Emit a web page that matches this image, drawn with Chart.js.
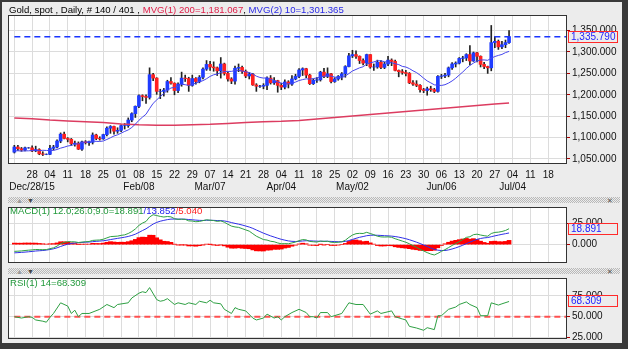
<!DOCTYPE html>
<html><head><meta charset="utf-8">
<script src="https://cdn.jsdelivr.net/npm/chart.js@4.4.0/dist/chart.umd.min.js"></script>
<style>
html,body{margin:0;padding:0;background:#3a3a3a;}
#frame{position:relative;width:628px;height:349px;background:#3a3a3a;overflow:hidden;font-family:"Liberation Sans",Arial,sans-serif;}
#inner{position:absolute;left:2px;top:2px;width:620px;height:341px;background:#ececec;}
canvas{position:absolute;left:0;}
.txt{position:absolute;font-size:9.6px;white-space:nowrap;line-height:12px;z-index:5;}
.strip{position:absolute;left:8px;width:612px;height:6px;background:repeating-conic-gradient(#b8b8b8 0 25%,#ececec 0 50%) 0 0/2px 2px;}
.ico{position:absolute;font-size:7px;line-height:7px;color:#666;}
</style></head>
<body>
<div id="frame">
  <div id="inner"></div>
  <div class="strip" style="top:197px"></div>
  <div class="strip" style="top:268px"></div>
  <div class="ico" style="left:16px;top:197px;color:#999">&#9650;</div><div class="ico" style="left:27px;top:197px;color:#444">&#9660;</div>
  <div class="ico" style="left:16px;top:268px;color:#999">&#9650;</div><div class="ico" style="left:27px;top:268px;color:#444">&#9660;</div>
  <div class="ico" style="left:607px;top:197px;color:#555">&#10005;</div>
  <div class="ico" style="left:607px;top:268px;color:#555">&#10005;</div>
  <canvas id="c1" width="628" height="196" style="top:0"></canvas>
  <canvas id="c2" width="628" height="70" style="top:200px"></canvas>
  <canvas id="c3" width="628" height="76" style="top:271px"></canvas>
  <div class="txt" style="left:9px;top:4px;color:#000">Gold, spot , Daily, # 140 / 401 , <span style="color:#e0204a">MVG(1) 200=1,181.067</span>, <span style="color:#2a2ae6">MVG(2) 10=1,301.365</span></div>
  <div class="txt" style="left:10px;top:205px;color:#239a3c">MACD(1) 12.0;26.0;9.0=18.891<span style="color:#2020ee">/13.852</span><span style="color:#ff2020">/5.040</span></div>
  <div class="txt" style="left:10px;top:277px;color:#239a3c">RSI(1) 14=68.309</div>
</div>
<script>
// ---------------- DATA ----------------
const startIdx = -5; // first bar = Mon Dec 21 2015 (trading-day index, Dec 28 2015 = 0)
const openP  = [1066,1078,1074,1071,1076,1076,1069,1072,1062,1061,1061,1075,1078,1092,1108,1098,1096,1086,1087,1073,1090,1088,1089,1106,1098,1097,1107,1122,1126,1115,1117,1128,1128,1141,1156,1173,1198,1196,1194,1247,1239,1208,1208,1211,1231,1227,1210,1225,1239,1238,1222,1238,1231,1241,1260,1271,1265,1263,1256,1272,1250,1237,1232,1262,1264,1255,1244,1248,1223,1220,1220,1222,1239,1228,1233,1222,1218,1230,1225,1237,1243,1258,1261,1246,1226,1234,1235,1253,1243,1249,1231,1237,1243,1249,1266,1291,1294,1290,1280,1274,1294,1265,1265,1276,1264,1272,1281,1278,1257,1254,1252,1250,1228,1225,1222,1212,1210,1214,1212,1208,1243,1244,1246,1263,1272,1274,1285,1286,1294,1279,1298,1290,1271,1266,1263,1322,1325,1312,1317,1322];
const highP  = [1082,1082,1077,1078,1077,1081,1080,1074,1067,1062,1082,1082,1095,1111,1113,1100,1098,1092,1090,1092,1093,1092,1111,1108,1102,1108,1125,1128,1127,1123,1130,1133,1146,1158,1174,1200,1200,1200,1263,1250,1240,1213,1215,1234,1240,1228,1228,1253,1246,1241,1246,1240,1245,1263,1280,1278,1277,1265,1287,1274,1253,1240,1267,1272,1267,1258,1252,1250,1226,1222,1226,1242,1245,1240,1234,1227,1235,1233,1245,1248,1261,1263,1262,1248,1237,1240,1255,1262,1263,1250,1240,1245,1252,1268,1297,1304,1303,1291,1284,1295,1294,1272,1281,1280,1276,1290,1284,1281,1258,1259,1257,1252,1233,1233,1224,1215,1218,1220,1215,1245,1248,1250,1265,1275,1277,1287,1290,1296,1315,1300,1299,1291,1276,1267,1362,1336,1328,1325,1328,1350];
const lowP   = [1064,1070,1068,1069,1075,1067,1067,1060,1058,1060,1060,1071,1076,1088,1097,1090,1082,1080,1072,1070,1085,1082,1085,1095,1094,1096,1104,1110,1108,1110,1114,1120,1124,1137,1147,1170,1186,1180,1190,1233,1201,1191,1197,1206,1225,1200,1205,1220,1231,1208,1220,1225,1228,1237,1257,1257,1255,1245,1239,1246,1232,1226,1225,1254,1250,1240,1237,1222,1208,1217,1214,1212,1225,1224,1206,1212,1214,1216,1222,1235,1240,1245,1240,1224,1224,1229,1232,1240,1240,1228,1229,1234,1235,1241,1265,1287,1285,1273,1270,1268,1262,1257,1262,1261,1261,1268,1268,1256,1242,1248,1244,1226,1222,1219,1206,1205,1199,1208,1205,1206,1238,1240,1242,1259,1265,1272,1277,1280,1270,1278,1277,1265,1261,1250,1256,1310,1306,1308,1310,1320];
const closeP = [1078,1074,1071,1076,1076,1069,1072,1062,1061,1061,1075,1078,1092,1108,1098,1096,1086,1087,1073,1090,1088,1089,1106,1098,1097,1107,1122,1126,1115,1117,1128,1128,1141,1156,1173,1198,1196,1194,1247,1239,1208,1208,1211,1231,1227,1210,1225,1239,1238,1222,1238,1231,1241,1260,1271,1265,1263,1256,1272,1250,1237,1232,1262,1264,1255,1244,1248,1223,1220,1220,1222,1239,1228,1233,1222,1218,1230,1225,1237,1243,1258,1261,1246,1226,1234,1235,1253,1243,1249,1231,1237,1243,1249,1266,1291,1294,1290,1280,1274,1294,1265,1265,1276,1264,1272,1281,1278,1257,1254,1252,1250,1228,1225,1222,1212,1210,1214,1212,1208,1243,1244,1246,1263,1272,1274,1285,1286,1294,1279,1298,1290,1271,1266,1263,1322,1325,1312,1317,1322,1335.79];
const ma10 = [1069.1,1069.2,1068.6,1069.0,1069.1,1069.8,1070.8,1069.3,1070.4,1070.0,1069.7,1070.1,1072.2,1075.4,1077.6,1080.3,1081.7,1084.2,1085.4,1088.3,1089.6,1090.7,1092.1,1091.1,1091.0,1092.1,1095.7,1099.6,1103.8,1106.5,1110.5,1114.4,1117.9,1123.7,1131.3,1140.4,1147.8,1154.6,1167.8,1180.0,1188.0,1196.0,1203.0,1210.5,1215.9,1217.1,1220.0,1224.5,1223.6,1221.9,1224.9,1227.2,1230.2,1233.1,1237.5,1243.0,1246.8,1248.5,1251.9,1254.7,1254.6,1254.7,1256.8,1257.2,1255.6,1253.5,1252.0,1248.7,1243.5,1240.5,1239.0,1239.7,1236.3,1233.2,1229.9,1227.3,1225.5,1225.7,1227.4,1229.7,1233.3,1235.5,1237.3,1236.6,1237.8,1239.5,1241.8,1243.6,1244.8,1243.6,1241.5,1239.7,1240.0,1244.0,1249.7,1255.6,1259.3,1263.0,1265.5,1271.8,1274.6,1276.8,1279.5,1279.3,1277.4,1276.1,1274.9,1272.6,1270.6,1266.4,1264.9,1261.2,1256.1,1251.9,1245.9,1238.8,1232.4,1227.9,1223.3,1222.4,1221.8,1223.6,1227.4,1232.4,1238.6,1246.1,1253.3,1261.5,1268.6,1274.1,1278.7,1281.2,1281.5,1280.6,1285.4,1289.4,1292.0,1294.3,1298.6,1301.365];
const ma200Days = [-5,0,5,10,15,20,25,30,35,40,45,50,55,60,65,70,75,80,85,90,95,100,105,110,115,120,125,130,134];
const ma200Vals = [1146,1144,1141,1139,1137,1135,1132,1130,1129,1129,1130,1131,1133,1135,1137,1138,1140,1143.5,1147,1150.5,1154,1157.5,1161,1164.5,1168,1171.5,1175,1178.5,1181.067];
const macdLine = [-8.0,-7.8,-7.5,-7.0,-6.6,-6.3,-5.8,-5.9,-6.0,-5.9,-4.8,-3.8,-1.8,1.2,2.6,3.5,3.4,3.3,2.5,3.0,3.4,3.7,5.0,5.3,5.5,6.4,8.0,9.5,9.8,10.1,11.0,11.6,13.2,15.5,18.6,22.8,25.6,27.5,32.8,35.5,34.5,33.5,32.8,33.4,33.0,30.8,30.0,30.2,30.0,28.2,28.0,27.2,27.5,28.5,29.5,29.0,28.6,27.6,28.2,26.6,24.2,22.0,21.0,20.5,19.0,17.5,16.0,13.0,10.0,8.0,6.0,5.4,4.0,3.4,2.0,1.0,1.2,1.0,2.0,3.0,4.7,6.0,5.6,3.8,3.4,3.0,4.2,3.8,4.0,2.8,2.6,2.8,3.4,5.2,8.6,11.4,13.0,13.4,13.2,14.6,13.2,11.8,10.0,9.2,9.0,9.2,8.7,7.0,5.6,4.2,2.8,1.0,-1.2,-3.2,-5.6,-7.5,-9.5,-11.2,-12.3,-10.4,-8.0,-6.0,-3.5,-1.0,1.2,3.5,6.0,8.6,9.4,11.8,12.4,11.4,10.6,10.0,13.2,14.5,14.8,15.6,16.8,18.891];
const signalLine = [-9.8,-9.5,-9.2,-8.9,-8.5,-8.1,-7.6,-7.3,-7.0,-6.5,-5.8,-5.0,-3.8,-2.2,-0.8,0.5,1.3,2.0,2.3,2.6,2.9,3.1,3.5,3.9,4.2,4.6,5.2,6.0,6.7,7.4,8.1,8.8,9.7,10.9,12.4,14.5,16.7,18.8,21.6,24.4,26.4,27.8,28.8,29.7,30.3,30.4,30.3,30.3,30.2,29.8,29.5,29.1,28.8,28.7,28.9,28.9,28.8,28.6,28.5,28.1,27.3,26.2,25.2,24.3,23.3,22.1,20.9,19.3,17.4,15.5,13.6,12.0,10.4,9.0,7.6,6.3,5.3,4.4,3.9,3.7,3.9,4.3,4.6,4.5,4.3,4.1,4.0,4.0,4.0,3.8,3.6,3.4,3.4,3.8,4.8,6.1,7.5,8.7,9.6,10.6,11.1,11.2,11.1,10.9,10.6,10.4,10.1,9.6,8.9,8.0,7.0,5.8,4.4,2.9,1.3,-0.4,-2.2,-4.0,-5.6,-6.6,-7.0,-7.0,-6.3,-5.2,-3.9,-2.4,-0.7,1.2,2.9,4.7,6.3,7.3,8.0,8.4,9.4,10.4,11.3,12.2,13.0,13.852];
const macdHist = [1.8,1.7,1.7,1.9,1.9,1.8,1.8,1.4,1.0,0.6,1.0,1.2,2.0,3.4,3.4,3.0,2.1,1.3,0.2,0.4,0.5,0.6,1.5,1.4,1.3,1.8,2.8,3.5,3.1,2.7,2.9,2.8,3.5,4.6,6.2,8.3,8.9,8.7,11.2,11.1,8.1,5.7,4.0,3.7,2.7,0.4,-0.3,-0.1,-0.2,-1.6,-1.5,-1.9,-1.3,-0.2,0.6,0.1,-0.2,-1.0,-0.3,-1.5,-3.1,-4.2,-4.2,-3.8,-4.3,-4.6,-4.9,-6.3,-7.4,-7.5,-7.6,-6.6,-6.4,-5.6,-5.6,-5.3,-4.1,-3.4,-1.9,-0.7,0.8,1.7,1.0,-0.7,-0.9,-1.1,0.2,-0.2,0.0,-1.0,-1.0,-0.6,0.0,1.4,3.8,5.3,5.5,4.7,3.6,4.0,2.1,0.6,-1.1,-1.7,-1.6,-1.2,-1.4,-2.6,-3.3,-3.8,-4.2,-4.8,-5.6,-6.1,-6.9,-7.1,-7.3,-7.2,-6.7,-3.8,-1.0,1.0,2.8,4.2,5.1,5.9,6.7,7.4,6.5,7.1,6.1,4.1,2.6,1.6,3.8,4.1,3.5,3.4,3.8,5.04];
const rsiDays = [-5,-3,-1,0,1,3,4,5,6,8,10,11,12,13,14,16,19,21,23,24,27,28,30,31,32,33,35,36,37,38,40,41,43,44,46,47,49,50,51,53,54,56,57,58,60,62,63,65,66,68,69,70,71,73,75,77,78,79,80,81,83,84,87,89,91,93,95,97,98,101,102,104,105,106,108,110,111,113,114,115,117,119,120,122,123,125,126,128,129,131,132,134];
const rsiVals = [50,48.4,50,49.2,46.1,44.6,43.4,49.2,53.9,66.7,62.8,53.9,57.8,50,53.9,53.9,58.9,64.7,60.9,64.7,66.7,72.5,78.3,80,79,85,70.6,68.6,69.5,71.7,64.7,66.7,64.7,66.7,64.7,68.6,66.7,69.8,66.7,65.5,58.9,53.9,60.9,58.9,57,48.4,46.1,48.4,53.1,48.4,50,46.1,50,55,58.9,55,50,50,48.4,55,55,50,53.9,66.7,64.7,64.7,53.1,57,53.9,57,50,47.3,46.1,38.4,36.4,33.7,36.8,34.5,51.2,51.2,58.9,61.6,64.7,67.8,64.7,60.9,51.2,51.2,66.7,64,65.5,68.309];
const rsiMid = 50;
// tick labels (one per Monday, Dec 28 2015 .. Jul 18 2016)
const dayLabels = ['28','04','11','18','25','01','08','15','22','29','07','14','21','28','04','11','18','25','02','09','16','23','30','06','13','20','27','04','11','18'];
const monthWeeks = [0,6,10,14,18,23,27];
const monthLabels = ['Dec/28/15','Feb/08','Mar/07','Apr/04','May/02','Jun/06','Jul/04'];
const priceTicks = [1050,1100,1150,1200,1250,1300,1350];
const macdTicks = [0,25];
const rsiTicks = [25,50,75];

// ---------------- CHARTS ----------------
const FONT = '"Liberation Sans", Arial, sans-serif';
Chart.defaults.font.family = FONT;
Chart.defaults.font.size = 10;
Chart.defaults.color = '#111';
const X_MIN = -6.5, X_MAX = 150;
const BG = '#ececec', GRID = '#dcdcdc';
const fmt = v => v.toLocaleString('en-US',{minimumFractionDigits:3,maximumFractionDigits:3});
const idx = i => startIdx + i;
const weekTickValues = [startIdx].concat(dayLabels.map((_, w) => w * 5));

const panelPlugin = {
  id: 'panel',
  beforeDraw(chart) {
    const {ctx, chartArea: a} = chart;
    ctx.save(); ctx.fillStyle = '#fff';
    ctx.fillRect(a.left, a.top, a.right - a.left, a.bottom - a.top); ctx.restore();
  },
  afterDraw(chart, args, opts) {
    const {ctx, chartArea: a} = chart;
    ctx.save();
    ctx.strokeStyle = '#333'; ctx.lineWidth = 1;
    ctx.strokeRect(a.left - 0.5, a.top - 0.5, a.right - a.left + 1, a.bottom - a.top + 1);
    if (opts && opts.box !== undefined) {
      const y = Math.round(chart.scales.y.getPixelForValue(opts.box));
      const x = a.right + 2;
      ctx.fillStyle = BG; ctx.fillRect(x, y - 6, 50, 12);
      ctx.strokeStyle = '#ff2a2a'; ctx.strokeRect(x + 0.5, y - 5.5, 49, 11);
      ctx.fillStyle = '#2222ff'; ctx.font = '10px ' + FONT; ctx.textBaseline = 'middle'; ctx.textAlign = 'left';
      ctx.fillText(fmt(opts.box), x + 3, y + 0.5);
    }
    ctx.restore();
  }
};

function xScale(height, showLabels) {
  return {
    type: 'linear', min: X_MIN, max: X_MAX, offset: false,
    grid: { color: GRID, offset: false, drawTicks: false },
    border: { display: false },
    afterBuildTicks: s => { s.ticks = weekTickValues.map(v => ({value: v})); },
    afterFit: s => { s.height = height; },
    ticks: {
      display: showLabels, autoSkip: false, maxRotation: 0, padding: 6, color: '#111',
      font: { size: 10, lineHeight: 1.2 },
      callback: v => {
        if (v < 0) return '';
        const w = Math.round(v / 5);
        const m = monthWeeks.indexOf(w);
        return [dayLabels[w], m >= 0 ? monthLabels[m] : ''];
      }
    }
  };
}
function yScale(min, max, ticks) {
  return {
    position: 'right', min, max,
    grid: { color: GRID, tickColor: '#b00000', tickLength: 4 },
    border: { display: false },
    afterBuildTicks: s => { s.ticks = ticks.map(v => ({value: v})); },
    afterFit: s => { s.width = 62; },
    ticks: { padding: 2, color: '#111', callback: v => fmt(v) }
  };
}
const common = (padTop, box) => ({
  responsive: false, animation: false, events: [],
  layout: { padding: { left: 9, top: padTop, right: 0, bottom: 0 } },
  plugins: { legend: { display: false }, tooltip: { enabled: false }, panel: { box } }
});

// main price chart
const lastClose = closeP[closeP.length - 1];
new Chart(document.getElementById('c1'), {
  type: 'bar',
  data: { datasets: [
    { type: 'line', order: 0, data: [{x: startIdx, y: lastClose}, {x: X_MAX, y: lastClose}],
      borderColor: '#1a35ff', borderWidth: 1.5, borderDash: [6, 4], pointRadius: 0 },
    { type: 'line', order: 1, data: ma10.map((v, i) => ({x: idx(i), y: v})),
      borderColor: '#4646ee', borderWidth: 1, pointRadius: 0, tension: 0 },
    { type: 'line', order: 2, data: ma200Days.map((d, i) => ({x: d, y: ma200Vals[i]})),
      borderColor: '#dc3c60', borderWidth: 1.5, pointRadius: 0 },
    { type: 'bar', order: 3, grouped: false, barThickness: 3,
      data: openP.map((o, i) => ({x: idx(i), y: [o, closeP[i]]})),
      backgroundColor: openP.map((o, i) => closeP[i] >= o ? '#1f3cff' : '#ff2020') },
    { type: 'bar', order: 4, grouped: false, barThickness: 1,
      data: lowP.map((l, i) => ({x: idx(i), y: [l, highP[i]]})), backgroundColor: '#222' }
  ]},
  options: Object.assign(common(16, lastClose), {
    scales: { x: xScale(33, true), y: yScale(1040.65, 1384.1, priceTicks) }
  }),
  plugins: [panelPlugin]
});

// MACD
new Chart(document.getElementById('c2'), {
  type: 'bar',
  data: { datasets: [
    { type: 'line', order: 1, data: macdLine.map((v, i) => ({x: idx(i), y: v})),
      borderColor: '#2ea043', borderWidth: 1, pointRadius: 0 },
    { type: 'line', order: 2, data: signalLine.map((v, i) => ({x: idx(i), y: v})),
      borderColor: '#3030e8', borderWidth: 1, pointRadius: 0 },
    { type: 'bar', order: 3, grouped: false, barThickness: 4,
      data: macdHist.map((v, i) => ({x: idx(i), y: v})), backgroundColor: '#ff0000' }
  ]},
  options: Object.assign(common(6, macdLine[macdLine.length - 1]), {
    scales: { x: xScale(5, false), y: yScale(-20.65, 43.5, macdTicks) }
  }),
  plugins: [panelPlugin]
});

// RSI
new Chart(document.getElementById('c3'), {
  type: 'line',
  data: { datasets: [
    { order: 1, data: rsiDays.map((d, i) => ({x: d, y: rsiVals[i]})),
      borderColor: '#2ea043', borderWidth: 1, pointRadius: 0 },
    { order: 2, data: [{x: startIdx, y: rsiMid}, {x: X_MAX, y: rsiMid}],
      borderColor: '#ff5050', borderWidth: 2, borderDash: [6, 4], pointRadius: 0 }
  ]},
  options: Object.assign(common(6, rsiVals[rsiVals.length - 1]), {
    scales: { x: xScale(9, false), y: yScale(24.4, 95.35, rsiTicks) }
  }),
  plugins: [panelPlugin]
});
</script>
</body></html>
